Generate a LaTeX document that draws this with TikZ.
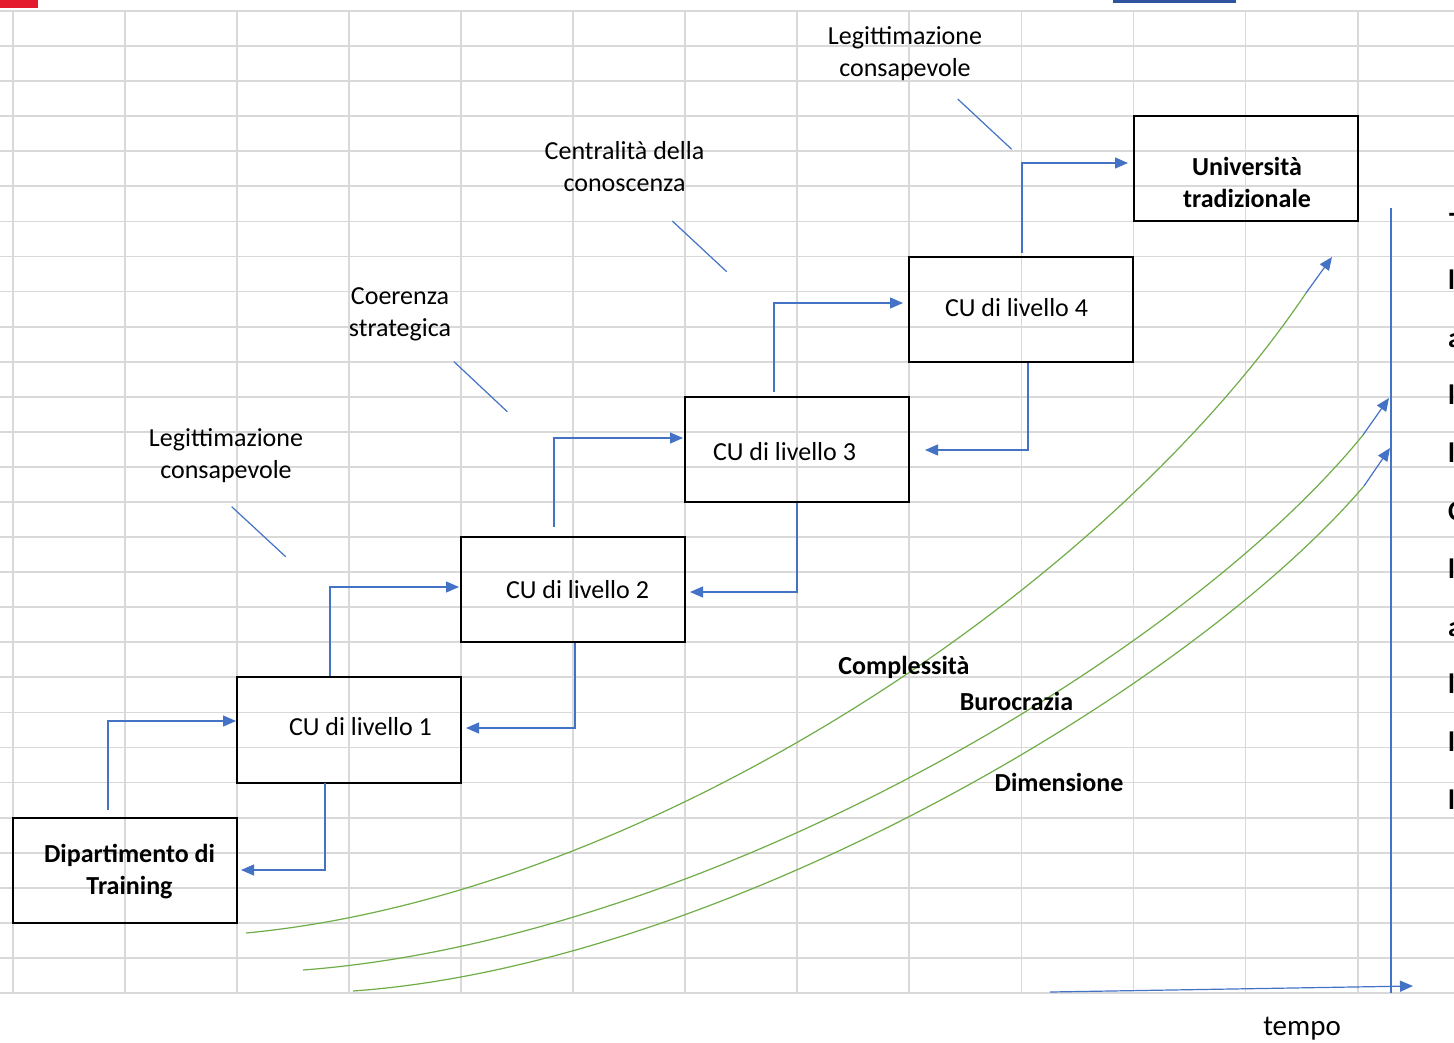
\documentclass[tikz,border=0pt]{standalone}
\usepackage{fontspec}
\setmainfont{Carlito}
\usetikzlibrary{arrows.meta}
\definecolor{cblue}{HTML}{4472C4}
\definecolor{cgreen}{HTML}{70AD47}
\definecolor{cgrid}{HTML}{D9D9D9}
\definecolor{cred}{HTML}{E31B2D}
\definecolor{cdblue}{HTML}{2E54A0}
\tikzset{
  gridline/.style={draw=cgrid, line width=1.8pt},
  stepbox/.style={draw=black, line width=2pt, minimum width=224.16pt, minimum height=105.2pt, inner sep=0pt},
  conn/.style={draw=cblue, line width=1.2pt, -{Triangle[length=13pt,width=11pt]}},
  lead/.style={draw=cblue, line width=1.2pt},
  growth/.style={draw=cgreen, line width=1.2pt},
  txt/.style={font=\fontsize{26}{32}\selectfont, align=center, inner sep=0pt},
  btxt/.style={font=\fontsize{26}{32}\selectfont\bfseries, align=center, inner sep=0pt},
  edge/.style={font=\fontsize{28}{32}\selectfont\bfseries, anchor=base west, inner sep=0pt}
}
\begin{document}
\begin{tikzpicture}[x=1pt,y=-1pt]
\useasboundingbox (0,0) rectangle (1454,1042);
\fill[white] (0,0) rectangle (1454,1042);
% top bars
\fill[cred] (0,0) rectangle (38,8);
\fill[cdblue] (1113,0) rectangle (1236,3);
% grid
\foreach \k in {0,...,28} \draw[gridline] (0,{11+35.07*\k}) -- (1454,{11+35.07*\k});
\foreach \k in {0,...,12} \draw[gridline] ({12.7+112.08*\k},11) -- ({12.7+112.08*\k},993);

% boxes
\node[stepbox] (dip) at (124.8,870.2) {};
\node[stepbox] (cu1) at (348.9,729.9) {};
\node[stepbox] (cu2) at (573.1,589.7) {};
\node[stepbox] (cu3) at (797.3,449.4) {};
\node[stepbox] (cu4) at (1021.4,309.1) {};
\node[stepbox] (univ) at (1245.6,168.8) {};

% box texts
\node[btxt] (t0) at (129.5,871.5) {Dipartimento di\\Training};
\node[txt] (t1) at (360.5,726.5) {CU di livello 1};
\node[txt] (t2) at (577.5,589.5) {CU di livello 2};
\node[txt] (t3) at (784.5,452) {CU di livello 3};
\node[txt] (t4) at (1016.5,307.5) {CU di livello 4};
\node[btxt] (t5) at (1247,182.5) {Università\\tradizionale};

% upward connectors
\coordinate (u1s) at (108,810);  \coordinate (u1e) at (236,721);
\coordinate (u2s) at (330,676);  \coordinate (u2e) at (459,587);
\coordinate (u3s) at (554,527);  \coordinate (u3e) at (683,438);
\coordinate (u4s) at (774,392);  \coordinate (u4e) at (903,303);
\coordinate (u5s) at (1022,253); \coordinate (u5e) at (1128,163);
\draw[conn] (u1s) |- (u1e);
\draw[conn] (u2s) |- (u2e);
\draw[conn] (u3s) |- (u3e);
\draw[conn] (u4s) |- (u4e);
\draw[conn] (u5s) |- (u5e);

% downward connectors
\coordinate (d1s) at (325,783);  \coordinate (d1e) at (241,870);
\coordinate (d2s) at (575,643);  \coordinate (d2e) at (466,728);
\coordinate (d3s) at (797,503);  \coordinate (d3e) at (690,592);
\coordinate (d4s) at (1028,363); \coordinate (d4e) at (925,450);
\draw[conn] (d1s) |- (d1e);
\draw[conn] (d2s) |- (d2e);
\draw[conn] (d3s) |- (d3e);
\draw[conn] (d4s) |- (d4e);

% annotation labels
\node[txt] (l1) at (226,456) {Legittimazione\\consapevole};
\node[txt] (l2) at (400,314.5) {Coerenza\\strategica};
\node[txt] (l3) at (624.5,167) {Centralità della\\conoscenza};
\node[txt] (l4) at (905,53.5) {Legittimazione\\consapevole};

% leaders
\coordinate (k1a) at (231.7,506.7); \coordinate (k1b) at (285.7,556.7);
\coordinate (k2a) at (454,361.7);   \coordinate (k2b) at (507.3,411.7);
\coordinate (k3a) at (672.3,221);   \coordinate (k3b) at (726.7,271.7);
\coordinate (k4a) at (957.7,99);    \coordinate (k4b) at (1011.7,149.3);
\draw[lead] (k1a) -- (k1b);
\draw[lead] (k2a) -- (k2b);
\draw[lead] (k3a) -- (k3b);
\draw[lead] (k4a) -- (k4b);

% growth curves
\coordinate (g1s) at (246,933); \coordinate (g1e) at (1306,293); \coordinate (g1t) at (1332,257);
\coordinate (g2s) at (303,970); \coordinate (g2e) at (1363,435); \coordinate (g2t) at (1389,398);
\coordinate (g3s) at (353,991); \coordinate (g3e) at (1364,486); \coordinate (g3t) at (1390,448);
\draw[growth] (g1s) .. controls (646,895) and (1106,590) .. (g1e);
\draw[growth] (g2s) .. controls (700,940) and (1180,660) .. (g2e);
\draw[growth] (g3s) .. controls (720,965) and (1190,690) .. (g3e);
\draw[conn] (g1e) -- (g1t);
\draw[conn] (g2e) -- (g2t);
\draw[conn] (g3e) -- (g3t);

\node[btxt] (c1) at (904,667.5) {Complessità};
\node[btxt] (c2) at (1016.5,701.5) {Burocrazia};
\node[btxt] (c3) at (1059,782.5) {Dimensione};

% axes
\coordinate (ay) at (1391,208); \coordinate (ao) at (1391,993);
\draw[lead] (ay) -- (ao);
\coordinate (ax0) at (1050,992); \coordinate (axt) at (1413,986);
\draw[conn] (ax0) -- (axt);
\node[txt, font=\fontsize{29}{32}\selectfont] (tm) at (1302,1029) {tempo};

% cut-off text at the right edge
\node[edge] (e0) at (1449,231) {T};
\foreach \y/\s in {289/l,347/a,404/l,462/l,520/C,578/l,636/a,693/l,751/l,809/l}
  \node[edge] at (1448,\y) {\s};
\end{tikzpicture}
\end{document}
